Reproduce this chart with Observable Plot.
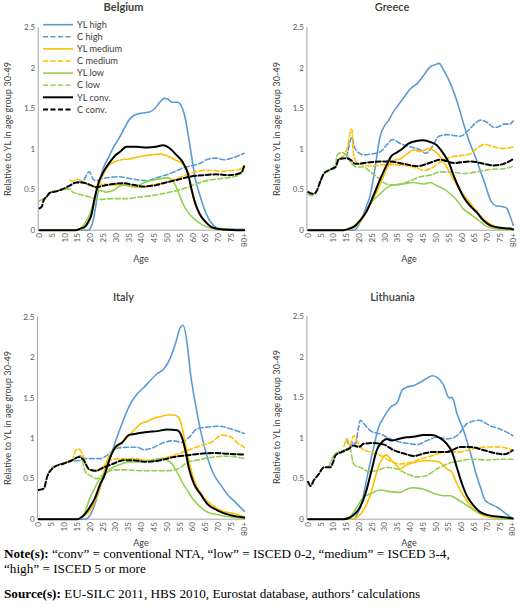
<!DOCTYPE html>
<html><head><meta charset="utf-8">
<script src="https://cdn.jsdelivr.net/npm/d3@7"></script>
<script src="https://cdn.jsdelivr.net/npm/@observablehq/plot@0.6"></script>
<style>
body{margin:0;background:#fff;}
#root{position:relative;width:520px;height:613px;overflow:hidden;font-family:Lato,"Open Sans",sans-serif;}
.abs{position:absolute;white-space:nowrap;}
.title{font-size:11px;color:#404040;transform:translate(-50%,-50%);}
.ylab{font-size:9.2px;color:#404040;transform:translate(-50%,-50%) rotate(-90deg);}
.xlab{font-size:9px;color:#404040;transform:translate(-50%,-50%);}
.note{font-family:"Liberation Serif","Times New Roman",serif;font-size:13.2px;line-height:15px;color:#000;left:4px;}
</style></head>
<body><div id="root"></div>
<script>
// ---- Data: [age, value] (age 80 = "80+") ----
const xTicks = [0,5,10,15,20,25,30,35,40,45,50,55,60,65,70,75,80];
const xTickLabels = ["0","5","10","15","20","25","30","35","40","45","50","55","60","65","70","75","80+"];
const yTicks = [0,0.5,1,1.5,2,2.5];
const yTickLabels = ["0","0.5","1","1.5","2","2.5"];
const seriesLabels = ["YL high","C high","YL medium","C medium","YL low","C low","YL conv.","C conv."];
const seriesColors = ["#5B9BD5","#5B9BD5","#FFC000","#FFC000","#92D050","#92D050","#000000","#000000"];
const seriesDashed = [false,true,false,true,false,true,false,true];
const countries = ["Belgium","Greece","Italy","Lithuania"];

// Belgium
const beYLhigh = [[0,0],[19,0],[20,0.03],[21,0.12],[22,0.3],[23,0.5],[24,0.66],[25,0.77],[27,0.9],[29,1.03],[31,1.13],[33,1.25],[35,1.36],[37,1.42],[39,1.44],[41,1.45],[43,1.46],[45,1.5],[47,1.58],[49,1.63],[50,1.62],[52,1.58],[54,1.58],[55.5,1.53],[57,1.38],[58,1.2],[59,1.0],[60,0.8],[61,0.62],[62.5,0.45],[64,0.3],[66,0.15],[68,0.06],[70,0.02],[80,0.01]];
const beChigh = [[15,0.6],[17,0.6],[18,0.66],[19.5,0.72],[21,0.63],[22,0.61],[24,0.63],[27,0.65],[31,0.66],[35,0.64],[39,0.62],[42,0.61],[45,0.64],[48,0.67],[51,0.7],[54,0.74],[57,0.78],[60,0.8],[63,0.83],[66,0.88],[69,0.89],[72,0.87],[76,0.9],[80,0.95]];
const beYLmed = [[0,0],[15,0],[17,0.02],[19,0.08],[20,0.16],[21,0.29],[22,0.42],[23,0.54],[25,0.7],[27,0.8],[29,0.84],[32,0.87],[35,0.88],[38,0.9],[41,0.92],[44,0.93],[47,0.94],[49,0.93],[51,0.9],[53,0.87],[55,0.84],[56.5,0.8],[58,0.7],[59.4,0.49],[61,0.31],[62.5,0.2],[64,0.13],[66,0.07],[68,0.03],[70,0.01],[80,0]];
const beCmed = [[12,0.62],[13,0.6],[14,0.62],[15,0.63],[17,0.6],[19.5,0.56],[22,0.54],[25,0.57],[29,0.56],[33,0.56],[37,0.53],[41,0.53],[44,0.56],[48,0.58],[53,0.63],[58,0.69],[62,0.73],[66,0.74],[71,0.73],[76,0.74],[78,0.75],[80,0.8]];
const beYLlow = [[0,0],[14,0],[16,0.02],[17,0.05],[18,0.1],[19.7,0.2],[21,0.33],[22,0.42],[23.6,0.49],[26,0.47],[28.8,0.49],[31,0.54],[33,0.56],[36.5,0.54],[39,0.56],[42,0.6],[44.5,0.62],[48,0.64],[50.3,0.65],[52,0.61],[53.5,0.53],[54.5,0.45],[56,0.33],[58,0.22],[60.5,0.14],[64,0.06],[68,0.02],[72,0.01],[80,0]];
const beClow = [[0,0.36],[1,0.38],[2.5,0.4],[4,0.47],[7,0.49],[9.5,0.5],[12,0.51],[13,0.47],[16,0.44],[19.7,0.41],[23.6,0.38],[28.8,0.39],[34,0.39],[39,0.41],[44.5,0.43],[51,0.47],[56,0.51],[61,0.57],[66.5,0.62],[71.7,0.64],[77,0.67],[80,0.74]];
const beYLconv = [[0,0],[14,0],[16,0.02],[18,0.05],[19,0.1],[20.3,0.19],[21.6,0.4],[23,0.58],[25,0.72],[27.5,0.84],[29.5,0.92],[31.5,0.97],[34,1.03],[38,1.03],[42,1.02],[45.5,1.03],[48.3,1.05],[51,1.01],[53.5,0.93],[56,0.84],[57,0.78],[58,0.7],[59.4,0.51],[60.7,0.35],[62.6,0.2],[65,0.1],[67.8,0.03],[71.7,0.01],[80,0]];
const beCconv = [[0,0.27],[1,0.3],[1.5,0.36],[2,0.39],[3,0.42],[4,0.46],[6.6,0.48],[9.2,0.51],[11.8,0.55],[14.5,0.59],[16.5,0.59],[19.7,0.56],[22.3,0.53],[25,0.55],[28.8,0.57],[32.7,0.58],[36.6,0.56],[40.5,0.54],[44.4,0.55],[48.3,0.58],[53.5,0.62],[58.7,0.66],[64,0.68],[69,0.69],[74,0.68],[78,0.7],[79,0.72],[80,0.79]];

// Greece
const grYLhigh = [[0,0],[18,0],[19,0.03],[21,0.15],[22.5,0.28],[24.2,0.43],[26,0.75],[28,1.15],[30,1.3],[31.5,1.36],[33,1.45],[35,1.54],[37.3,1.64],[40,1.75],[42.5,1.81],[45,1.91],[47.7,2.02],[50,2.05],[51,2.06],[53,1.97],[55.5,1.81],[58,1.6],[60.7,1.31],[62.7,1.11],[65.3,0.9],[67,0.75],[69,0.57],[71.5,0.35],[73.5,0.3],[76,0.29],[77.5,0.27],[78.5,0.2],[80,0.06]];
const grChigh = [[15,0.9],[16,1.05],[17,1.15],[18,1.03],[19.5,0.96],[21.7,0.93],[24.3,0.94],[28.2,0.97],[30.8,1.06],[32.8,1.12],[36,1.07],[40,1.03],[43.8,0.99],[45.8,0.95],[48.4,1.03],[51,1.16],[54.2,1.18],[57,1.17],[59.4,1.16],[61.5,1.2],[63.3,1.26],[65.5,1.33],[67.3,1.36],[69.9,1.33],[72.5,1.27],[74.5,1.28],[76.3,1.31],[78.5,1.31],[80,1.35]];
const grYLmed = [[0,0],[15,0],[17,0.02],[19,0.06],[21,0.13],[23,0.25],[25.5,0.39],[28.1,0.57],[30.7,0.76],[33.3,0.86],[35.9,0.88],[38.5,0.94],[41.1,0.99],[43.8,0.97],[47,1.01],[49.6,0.97],[52.2,0.88],[54.1,0.78],[56.7,0.63],[59.3,0.49],[61.9,0.39],[64.5,0.28],[67.1,0.18],[69.8,0.1],[73.6,0.04],[77,0.01],[80,0.01]];
const grCmed = [[13,0.9],[14.5,0.95],[15.5,1.05],[16.5,1.22],[17,1.25],[17.7,0.93],[19.6,0.82],[22.9,0.8],[25.5,0.79],[29.4,0.81],[33.3,0.81],[37.2,0.8],[41.1,0.78],[45,0.74],[47.6,0.76],[51.5,0.84],[55.4,0.9],[59.3,0.92],[63.2,0.94],[65.8,1.01],[69,1.06],[72.3,1.03],[76.2,1.01],[80,1.03]];
const grYLlow = [[0,0],[15,0],[17.7,0.04],[19.5,0.1],[21.6,0.18],[24.2,0.33],[26.8,0.41],[29.4,0.49],[32,0.55],[34.6,0.56],[37.2,0.57],[41.1,0.59],[45,0.57],[47.6,0.59],[50.2,0.55],[52.9,0.51],[55.4,0.45],[58,0.37],[60.6,0.26],[63.2,0.2],[65.8,0.14],[69,0.06],[72.3,0.02],[76,0.01],[80,0]];
const grClow = [[0,0.44],[1.5,0.43],[2.8,0.45],[4.8,0.6],[6.1,0.69],[8.7,0.75],[10.7,0.82],[11.2,0.92],[13.1,0.96],[15.1,0.92],[17,0.82],[19,0.78],[21.6,0.78],[24.2,0.72],[26.8,0.66],[29.4,0.59],[32,0.56],[35.9,0.57],[39.8,0.61],[43.8,0.66],[47.6,0.68],[51.5,0.72],[55.4,0.72],[60.6,0.7],[65.8,0.72],[71,0.75],[76.2,0.76],[80,0.79]];
const grYLconv = [[0,0],[13.8,0],[16,0.02],[17.7,0.04],[20.3,0.12],[22.9,0.24],[25.5,0.43],[28.1,0.63],[30.7,0.81],[32.6,0.92],[34.6,0.96],[36.5,1.0],[39.1,1.07],[41.7,1.1],[45,1.11],[47.6,1.09],[50.2,1.05],[52.9,0.94],[54.8,0.84],[56.7,0.68],[58.7,0.53],[60.6,0.41],[63.2,0.3],[65.8,0.22],[68.4,0.12],[71,0.06],[74.9,0.03],[78.8,0.02],[80,0.01]];
const grCconv = [[0,0.47],[1.6,0.45],[2.8,0.46],[4.8,0.61],[6.1,0.7],[8.7,0.75],[10.7,0.78],[12,0.88],[14.6,0.89],[16.5,0.87],[18.4,0.82],[24.3,0.84],[30.8,0.85],[37.3,0.82],[42.5,0.79],[46.4,0.82],[51.6,0.87],[56.8,0.83],[63.3,0.85],[68.6,0.82],[72.5,0.8],[76.3,0.82],[80,0.88]];

// Italy
const itYLhigh = [[0,0],[18,0],[20,0.05],[22,0.2],[24,0.42],[25.3,0.52],[27.9,0.77],[30.5,1.02],[33.1,1.24],[35.7,1.43],[38.3,1.55],[40.9,1.63],[43.5,1.72],[46.1,1.8],[48.7,1.86],[51.3,2.0],[53.2,2.17],[55.2,2.38],[56.2,2.4],[57.8,2.17],[59.1,1.8],[61,1.43],[63,1.1],[65.6,0.77],[68.2,0.55],[70.5,0.44],[73.4,0.31],[75.9,0.23],[80,0.1]];
const itChigh = [[14,0.72],[16.3,0.73],[17.5,0.75],[20.1,0.75],[24,0.75],[26.6,0.79],[30.5,0.88],[34.4,0.89],[38.3,0.89],[40.9,0.86],[44.8,0.89],[48.7,0.95],[52.6,0.97],[55.8,0.95],[58.4,1.01],[61.7,1.12],[65.6,1.14],[70.7,1.15],[74.6,1.12],[80,1.06]];
const itYLmed = [[0,0],[15,0],[16.3,0.02],[18,0.05],[19.5,0.09],[22,0.23],[24,0.4],[25.5,0.6],[26.6,0.73],[29.2,0.85],[31.8,0.93],[34.4,1.01],[37,1.1],[39.6,1.18],[42.2,1.21],[44.8,1.25],[47.4,1.27],[50,1.29],[52.6,1.29],[54.4,1.26],[55.8,1.14],[57.1,0.93],[59.1,0.64],[61,0.44],[62.5,0.35],[64.3,0.27],[66.9,0.19],[70.7,0.11],[75.9,0.07],[80,0.03]];
const itCmed = [[10,0.7],[13,0.73],[14.3,0.85],[15.5,0.87],[16.5,0.84],[18.2,0.69],[19.5,0.62],[22.1,0.59],[24.7,0.64],[27.9,0.73],[31.8,0.75],[37,0.75],[42.2,0.73],[47.4,0.75],[52.6,0.79],[57.8,0.85],[63,0.91],[67,0.95],[71.4,1.04],[74.6,1.02],[77.2,0.95],[80,0.89]];
const itYLlow = [[0,0],[15,0],[16.9,0.03],[18.2,0.1],[19.5,0.23],[21.4,0.36],[23.4,0.48],[25.3,0.54],[27.9,0.62],[31.8,0.68],[35.7,0.71],[39.6,0.71],[43.5,0.72],[47.4,0.75],[50,0.73],[52,0.68],[53.9,0.58],[56,0.45],[58.4,0.33],[60,0.25],[62.3,0.17],[65.6,0.09],[70.7,0.05],[80,0.01]];
const itClow = [[5,0.64],[8,0.68],[11,0.7],[14.3,0.75],[16.2,0.79],[18.2,0.58],[20.1,0.54],[22.7,0.5],[25.3,0.56],[29.2,0.61],[34.4,0.61],[39.6,0.6],[44.8,0.6],[50,0.6],[53.9,0.62],[57.8,0.7],[63,0.74],[68.2,0.77],[73.4,0.78],[80,0.75]];
const itYLconv = [[0,0],[15,0],[16.9,0.03],[19.5,0.13],[22,0.27],[24,0.44],[25.3,0.52],[27.9,0.77],[29.8,0.89],[32.5,0.95],[35,1.04],[38.3,1.06],[42.2,1.08],[46.1,1.09],[50,1.11],[53.9,1.1],[55.8,1.01],[57.1,0.85],[58.4,0.64],[60.4,0.44],[63,0.31],[65.6,0.19],[69.5,0.11],[74.6,0.05],[80,0.02]];
const itCconv = [[0,0.36],[2,0.38],[3.2,0.52],[5.8,0.64],[9.7,0.69],[13,0.73],[15.6,0.77],[17.5,0.73],[19.5,0.62],[22.1,0.6],[25.3,0.64],[29.2,0.69],[33.1,0.73],[37,0.73],[42.2,0.71],[47.4,0.73],[52.6,0.77],[57.8,0.79],[63,0.81],[68.2,0.82],[73.4,0.81],[80,0.8]];

// Lithuania
const ltYLhigh = [[0,0],[18,0],[19,0.05],[21,0.21],[22.9,0.5],[25.5,0.87],[27.5,1.13],[29.6,1.26],[32.2,1.38],[34.8,1.44],[36.7,1.59],[38.7,1.63],[41.3,1.65],[43.9,1.69],[46.5,1.74],[48.5,1.77],[50.4,1.75],[53,1.65],[55,1.5],[56.3,1.5],[58.2,1.3],[60.8,1.09],[63.5,0.81],[66,0.52],[67.5,0.38],[69.2,0.23],[71.1,0.19],[73.8,0.15],[76.4,0.09],[79,0.03],[80,0.01]];
const ltChigh = [[15,0.99],[16.5,0.9],[17.5,0.95],[18.5,0.93],[19.5,1.1],[20.4,1.22],[21.7,1.18],[24.4,1.09],[28.3,1.05],[32.2,0.99],[36.1,0.95],[40,0.93],[42.6,0.92],[46.5,0.97],[50.4,1.01],[54.3,0.99],[58.2,1.03],[62.2,1.18],[66.7,1.22],[71.3,1.15],[75.2,1.11],[80,1.03]];
const ltYLmed = [[0,0],[17,0],[19,0.02],[21.6,0.11],[24.2,0.29],[26.8,0.58],[28.8,0.74],[30.7,0.79],[32.7,0.72],[34.6,0.66],[35.9,0.62],[37.9,0.66],[41.2,0.7],[45.1,0.72],[49,0.72],[51.6,0.7],[54.2,0.62],[56.2,0.58],[58.1,0.44],[60.7,0.29],[63.3,0.17],[65.9,0.09],[69.9,0.03],[80,0]];
const ltCmed = [[14,0.9],[15.1,0.99],[16.4,0.91],[17.7,1.03],[19,0.97],[21,0.87],[24.2,0.83],[28.1,0.79],[32,0.72],[35.9,0.68],[39.9,0.7],[43.8,0.74],[49,0.79],[54.2,0.83],[59.4,0.83],[64.6,0.87],[69.9,0.89],[75,0.89],[80,0.85]];
const ltYLlow = [[0,0],[15,0],[17,0.05],[19,0.15],[21.6,0.27],[24.2,0.31],[28.1,0.36],[32,0.34],[35.9,0.33],[38.6,0.37],[41.2,0.39],[45.1,0.37],[49,0.32],[52.9,0.29],[55.5,0.29],[58.1,0.25],[62,0.17],[65.9,0.09],[69.9,0.05],[75,0.01],[80,0]];
const ltClow = [[8,0.64],[10.6,0.81],[13.8,0.85],[16.4,0.87],[17.5,0.7],[18.4,0.66],[20.3,0.64],[23.6,0.59],[26.8,0.6],[30.7,0.64],[34.6,0.62],[38.6,0.56],[42.5,0.52],[46.4,0.54],[50.3,0.62],[54.2,0.68],[59.4,0.72],[64.6,0.74],[69.9,0.73],[75,0.74],[80,0.74]];
const ltYLconv = [[0,0],[13.8,0],[17.7,0.05],[20.3,0.15],[22.9,0.37],[24.9,0.62],[26.8,0.85],[28.8,0.95],[30.7,0.99],[32.7,0.97],[35.3,0.99],[38.5,1.01],[41.8,1.02],[45.1,1.04],[48.3,1.04],[51.6,1.0],[54.2,0.93],[56.2,0.83],[58.1,0.64],[60.1,0.44],[62,0.29],[64.6,0.17],[67.2,0.09],[70.4,0.05],[75,0.03],[80,0.01]];
const ltCconv = [[0,0.46],[0.9,0.41],[2.2,0.48],[4.2,0.56],[6.1,0.64],[8.7,0.64],[9.7,0.7],[10.7,0.79],[13.3,0.83],[15.9,0.87],[17.8,0.91],[19.8,0.89],[21.7,0.93],[25.6,0.94],[29.6,0.92],[33.5,0.85],[37.4,0.81],[41.3,0.78],[45.2,0.81],[49.1,0.83],[54.3,0.83],[59.5,0.89],[63.5,0.89],[68.7,0.85],[73.9,0.81],[76.5,0.8],[80,0.85]];

// ---- Layout ----
const root = document.getElementById("root");
const panels = [
  {name: countries[0], left: 0, top: 0, H: 270, x0: 39, x80: 243.7, y25: 27.3, y0: 229.7, tx: 123.5, ty: 6, ylx: 7, xly: 258, xlx: 141,
   data: [beYLhigh, beChigh, beYLmed, beCmed, beYLlow, beClow, beYLconv, beCconv], bold: true},
  {name: countries[1], left: 260, top: 0, H: 270, x0: 47.7, x80: 252.7, y25: 27.3, y0: 229.7, tx: 132, ty: 6, ylx: 15.5, xly: 258, xlx: 149,
   data: [grYLhigh, grChigh, grYLmed, grCmed, grYLlow, grClow, grYLconv, grCconv]},
  {name: countries[2], left: 0, top: 290, H: 255, x0: 38.3, x80: 243.7, y25: 26.7, y0: 228.7, tx: 123.5, ty: 6, ylx: 7, xly: 252, xlx: 141,
   data: [itYLhigh, itChigh, itYLmed, itCmed, itYLlow, itClow, itYLconv, itCconv]},
  {name: countries[3], left: 260, top: 290, H: 255, x0: 47.7, x80: 252.3, y25: 26, y0: 228.7, tx: 132.5, ty: 5.5, ylx: 15.5, xly: 252, xlx: 149,
   data: [ltYLhigh, ltChigh, ltYLmed, ltCmed, ltYLlow, ltClow, ltYLconv, ltCconv]}
];

function addDiv(cls, text, left, top, extra) {
  const d = document.createElement("div");
  d.className = "abs " + cls;
  d.textContent = text;
  d.style.left = left + "px";
  d.style.top = top + "px";
  if (extra) Object.assign(d.style, extra);
  root.appendChild(d);
  return d;
}

for (const p of panels) {
  const half = (p.x80 - p.x0) / 160;
  const lineMarks = p.data.map((arr, i) => Plot.line(arr, {
    x: d => d[0], y: d => d[1],
    stroke: seriesColors[i],
    strokeWidth: i >= 6 ? 2 : 1.6,
    strokeDasharray: seriesDashed[i] ? "5,2.5" : null,
    curve: "monotone-x"
  }));
  const chart = Plot.plot({
    width: 260, height: p.H,
    marginLeft: p.x0 - half, marginRight: 260 - p.x80 - half,
    marginTop: p.y25, marginBottom: p.H - p.y0,
    style: {fontFamily: "Lato, 'Open Sans', sans-serif", fontSize: "8px", color: "#595959", background: "transparent", overflow: "visible"},
    x: {domain: [-0.5, 80.5], ticks: xTicks, tickFormat: d => xTickLabels[xTicks.indexOf(d)], tickRotate: -90, tickSize: 0, tickPadding: 3, label: null},
    y: {domain: [0, 2.5], ticks: yTicks, tickFormat: d => yTickLabels[yTicks.indexOf(d)], tickSize: 0, tickPadding: 3, label: null},
    marks: [
      Plot.ruleY([0], {stroke: "#a6a6a6", strokeWidth: 1}),
      Plot.ruleX([-0.5], {stroke: "#a6a6a6", strokeWidth: 1}),
      ...lineMarks
    ]
  });
  chart.style.position = "absolute";
  chart.style.left = p.left + "px";
  chart.style.top = p.top + "px";
  root.appendChild(chart);

  addDiv("title", p.name, p.left + p.tx, p.top + p.ty, {fontWeight: p.bold ? "700" : "600"});
  addDiv("ylab", "Relative to YL in age group 30-49", p.left + p.ylx, p.top + (p.y25 + p.y0) / 2);
  addDiv("xlab", "Age", p.left + p.xlx, p.top + p.xly);
}

// Legend (Belgium panel)
const legend = d3.select(root).append("svg")
  .attr("width", 130).attr("height", 120)
  .style("position", "absolute").style("left", "0px").style("top", "0px");
seriesLabels.forEach((lab, i) => {
  const y = 24.7 + i * 12.1;
  legend.append("line").attr("x1", 43).attr("x2", 73).attr("y1", y).attr("y2", y)
    .attr("stroke", seriesColors[i]).attr("stroke-width", i >= 6 ? 2 : 1.6)
    .attr("stroke-dasharray", seriesDashed[i] ? "5,2.5" : null);
  legend.append("text").attr("x", 77).attr("y", y).attr("dy", "0.35em")
    .attr("font-family", "Lato, 'Open Sans', sans-serif").attr("font-size", 9.2).attr("fill", "#404040")
    .text(lab);
});

// Footer notes
const n1 = addDiv("note", "", 4, 546);
n1.innerHTML = "<b>Note(s):</b> \u201cconv\u201d = conventional NTA, \u201clow\u201d = ISCED 0-2, \u201cmedium\u201d = ISCED 3-4,";
addDiv("note", "\u201chigh\u201d = ISCED 5 or more", 4, 561);
const n3 = addDiv("note", "", 4, 586);
n3.innerHTML = "<b>Source(s):</b> EU-SILC 2011, HBS 2010, Eurostat database, authors\u2019 calculations";
</script>
</body></html>
